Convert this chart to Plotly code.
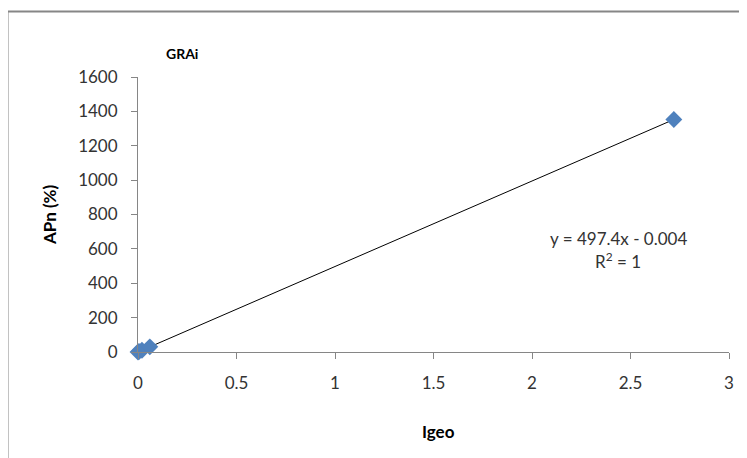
import plotly.graph_objects as go

igeo = [0.0, 0.005, 0.02, 0.06, 2.72]
apn = [0.0, 2.5, 10.0, 30.0, 1353.0]
slope = 497.4
intercept = -0.004
x_ticks = [0, 0.5, 1, 1.5, 2, 2.5, 3]
y_ticks = [0, 200, 400, 600, 800, 1000, 1200, 1400, 1600]

OFF = 8  # page body margin
W, H = 747 - OFF, 458 - OFF
L, R, T, B = 138 - OFF, 18, 77 - OFF, 106
pw, ph = W - L - R, H - T - B

font = "Lato, Liberation Sans, Arial"
tick_color = "#333333"

fig = go.Figure()
trend_x = [min(igeo), max(igeo)]
trend_y = [slope * v + intercept for v in trend_x]
fig.add_trace(go.Scatter(x=trend_x, y=trend_y, mode="lines",
                         line=dict(color="#000000", width=1), showlegend=False))
fig.add_trace(go.Scatter(x=igeo, y=apn, mode="markers",
                         marker=dict(symbol="diamond", size=13, color="#4F81BD"),
                         showlegend=False, cliponaxis=False))

def px2paper_x(px):
    return (px - OFF - L) / pw

def px2paper_y(py):
    return (H - B - (py - OFF)) / ph

fig.update_layout(
    width=W, height=H,
    margin=dict(l=L, r=R, t=T, b=B, pad=0),
    paper_bgcolor="white", plot_bgcolor="white",
    font=dict(family=font, size=16, color="#000000"),
    xaxis=dict(range=[0, 3], tickvals=x_ticks, showgrid=False, zeroline=False,
               showline=True, linecolor="#868686", ticks="outside", ticklen=6,
               tickcolor="#868686", tickfont=dict(size=17, color=tick_color),
               ticklabelstandoff=10),
    yaxis=dict(range=[0, 1600], tickvals=y_ticks, showgrid=False, zeroline=False,
               showline=True, linecolor="#868686", ticks="outside", ticklen=6,
               tickcolor="#868686", tickfont=dict(size=17, color=tick_color),
               ticklabelstandoff=10),
    shapes=[dict(type="rect", xref="paper", yref="paper",
                 x0=px2paper_x(7.5), x1=px2paper_x(760), y0=px2paper_y(470), y1=px2paper_y(11.5),
                 line=dict(color="#868686", width=2), fillcolor="rgba(0,0,0,0)", layer="below")],
    annotations=[
        dict(text="<b>GRAi</b>", xref="paper", yref="paper", x=px2paper_x(164), y=px2paper_y(53),
             xanchor="left", yanchor="middle", showarrow=False, font=dict(size=14)),
        dict(text="<b>APn (%)</b>", xref="paper", yref="paper", x=px2paper_x(49), y=px2paper_y(215),
             xanchor="center", yanchor="middle", textangle=-90, showarrow=False, font=dict(size=17)),
        dict(text="<b>Igeo</b>", xref="paper", yref="paper", x=px2paper_x(438), y=px2paper_y(431),
             xanchor="center", yanchor="middle", showarrow=False, font=dict(size=17)),
        dict(text="y = 497.4x - 0.004", xref="paper", yref="paper", x=px2paper_x(618), y=px2paper_y(238),
             xanchor="center", yanchor="middle", showarrow=False, font=dict(size=17, color=tick_color)),
        dict(text="R<sup>2</sup> = 1", xref="paper", yref="paper", x=px2paper_x(618), y=px2paper_y(260),
             xanchor="center", yanchor="middle", showarrow=False, font=dict(size=17, color=tick_color)),
    ],
)

fig.write_html("out.html")
